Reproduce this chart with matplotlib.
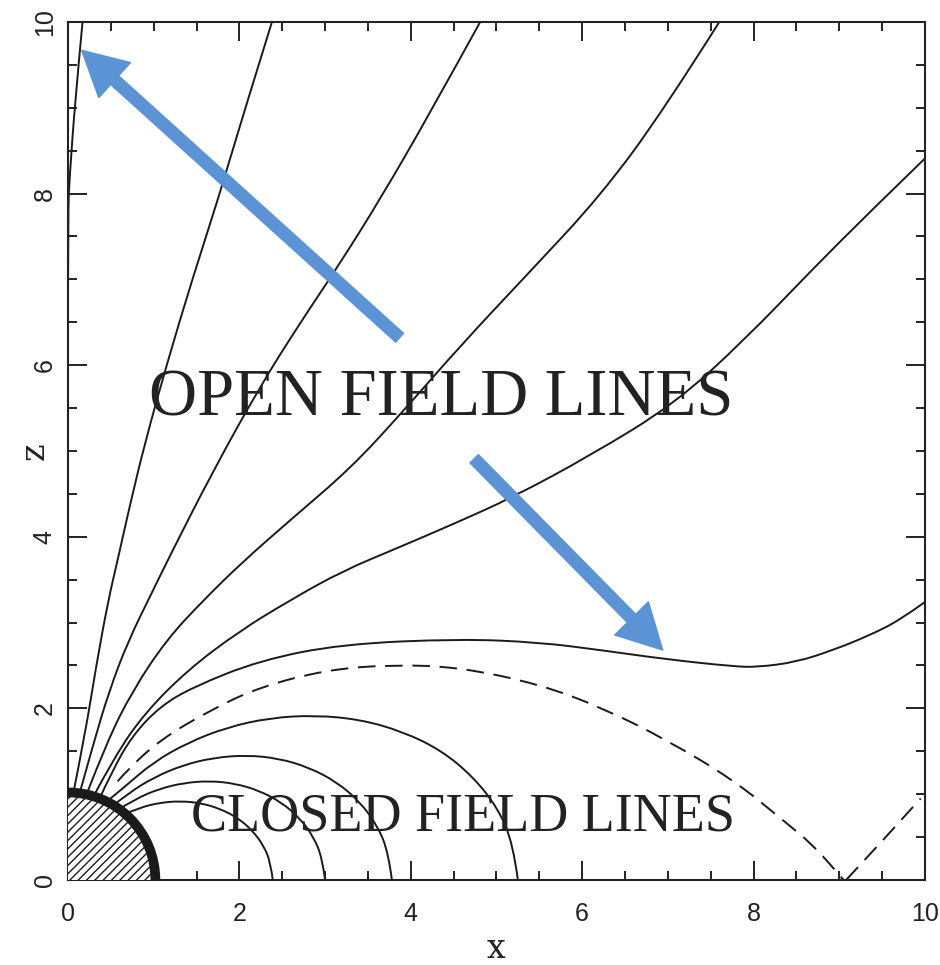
import numpy as np
import matplotlib.pyplot as plt
from matplotlib.patches import Wedge, Arc, PathPatch
from matplotlib.path import Path

# field lines, (x, z) in stellar radii
open_a_x = [0.0, 0.0, 0.0, 0.02, 0.085, 0.17]
open_a_z = [1.0, 4.5, 7.8, 8.2, 9.1, 10.0]

open_b_x = [0.06, 0.2, 0.33, 0.47, 0.58, 0.73, 0.9, 1.15, 1.45, 1.75, 2.06, 2.38]
open_b_z = [1.0, 1.7, 2.5, 3.26, 3.73, 4.4, 5.1, 6.0, 7.0, 7.93, 8.97, 10.0]

open_c_x = [0.13, 0.3, 0.48, 0.7, 0.98, 1.19, 1.7, 2.24, 2.7, 3.15, 3.64, 4.22, 4.81]
open_c_z = [0.99, 1.6, 2.2, 2.78, 3.35, 3.78, 4.78, 5.75, 6.48, 7.15, 7.93, 8.93, 10.0]

open_d_x = [0.21, 0.45, 0.75, 1.15, 1.58, 2.03, 2.6, 3.3, 3.9, 4.6, 5.4, 6.21, 6.95, 7.6]
open_d_z = [0.98, 1.6, 2.2, 2.8, 3.26, 3.7, 4.2, 4.8, 5.45, 6.25, 7.1, 7.97, 8.97, 10.0]

open_e_x = [0.29, 0.55, 0.9, 1.4, 2.0, 2.59, 3.2, 3.87, 4.5, 5.19, 6.1, 7.08, 7.9, 8.68, 9.35, 10.0]
open_e_z = [0.96, 1.45, 1.95, 2.45, 2.9, 3.26, 3.6, 3.88, 4.15, 4.46, 4.95, 5.55, 6.3, 7.11, 7.78, 8.41]

open_f_x = [0.36, 0.52, 0.75, 1.07, 1.46, 2.24, 3.2, 4.57, 5.5, 6.21, 7.0, 7.76, 8.04, 8.5, 8.93, 9.35, 9.71, 10.0]
open_f_z = [0.93, 1.28, 1.68, 2.02, 2.25, 2.56, 2.75, 2.81, 2.77, 2.68, 2.57, 2.49, 2.48, 2.54, 2.68, 2.85, 3.03, 3.24]

sep_x = [0.58, 0.69, 1.07, 1.66, 2.24, 3.02, 3.79, 4.57, 5.51, 6.25, 6.99, 7.76, 8.34, 8.75, 9.05]
sep_z = [1.15, 1.28, 1.63, 1.98, 2.25, 2.45, 2.51, 2.48, 2.28, 2.0, 1.63, 1.17, 0.70, 0.36, 0.0]
sheet_x = [9.08, 9.5, 9.95]
sheet_z = [0.0, 0.45, 0.95]

loop1_x = [0.647, 0.846, 1.073, 1.315, 1.554, 1.778, 1.984, 2.153, 2.282, 2.364, 2.39]
loop1_z = [0.763, 0.846, 0.901, 0.920, 0.896, 0.829, 0.722, 0.576, 0.402, 0.206, 0.0]
loop2_x = [0.577, 0.797, 1.061, 1.347, 1.65, 1.95, 2.232, 2.49, 2.703, 2.865, 2.967, 3.0]
loop2_z = [0.816, 0.949, 1.061, 1.131, 1.155, 1.125, 1.041, 0.906, 0.723, 0.504, 0.258, 0.0]
loop3_x = [0.514, 0.714, 1.005, 1.338, 1.697, 2.079, 2.457, 2.812, 3.137, 3.406, 3.61, 3.738, 3.78]
loop3_z = [0.857, 1.019, 1.196, 1.338, 1.425, 1.455, 1.418, 1.312, 1.142, 0.911, 0.635, 0.325, 0.0]
loop4_x = [0.436, 0.656, 0.992, 1.396, 1.858, 2.357, 2.888, 3.413, 3.906, 4.358, 4.73, 5.014, 5.193, 5.25]
loop4_z = [0.9, 1.08, 1.37, 1.6, 1.78, 1.89, 1.92, 1.87, 1.73, 1.51, 1.2, 0.84, 0.43, 0.0]

star_radius = 1.0

# arrows: (tail, tip)
arrow_up = ((3.87, 6.32), (0.16, 9.67))
arrow_down = ((4.74, 4.91), (6.94, 2.68))

ink = '#1a1a1a'


def smooth_line(ax, xs, zs, **kw):
    # quadratic bezier through the midpoints of the read points
    pts = np.column_stack([xs, zs])
    verts = [pts[0]]
    codes = [Path.MOVETO]
    for i in range(1, len(pts) - 1):
        end = pts[i + 1] if i == len(pts) - 2 else (pts[i] + pts[i + 1]) / 2
        verts += [pts[i], end]
        codes += [Path.CURVE3, Path.CURVE3]
    if len(pts) == 2:
        verts.append(pts[1])
        codes.append(Path.LINETO)
    ax.add_patch(PathPatch(Path(verts, codes), fill=False, **kw))


fig = plt.figure(figsize=(9.4, 9.65), dpi=100)
ax = fig.add_axes([0.0723, 0.0881, 0.9117, 0.8891])

lw = 1.4
for xs, zs in [(open_a_x, open_a_z), (open_b_x, open_b_z), (open_c_x, open_c_z),
               (open_d_x, open_d_z), (open_e_x, open_e_z), (open_f_x, open_f_z),
               (loop1_x, loop1_z), (loop2_x, loop2_z), (loop3_x, loop3_z), (loop4_x, loop4_z)]:
    smooth_line(ax, xs, zs, edgecolor=ink, lw=lw)

smooth_line(ax, sep_x, sep_z, edgecolor=ink, lw=lw, linestyle=(0, (9, 5)))
smooth_line(ax, sheet_x, sheet_z, edgecolor=ink, lw=lw, linestyle=(0, (9, 5)))

# the star
ax.add_patch(Wedge((0, 0), star_radius, 0, 90, facecolor='white', edgecolor=ink,
                   hatch='////', lw=0, zorder=3))
ax.add_patch(Arc((0, 0), 2.04 * star_radius, 2.04 * star_radius, theta1=0, theta2=90,
                 color=ink, lw=7, zorder=4))

for tail, tip in [arrow_up, arrow_down]:
    ax.annotate('', xy=tip, xytext=tail,
                arrowprops=dict(arrowstyle='simple,head_length=3.2,head_width=3.4,tail_width=0.85',
                                color='#5b93d5', mutation_scale=10, shrinkA=0, shrinkB=0),
                zorder=5)

ax.text(4.35, 5.41, 'OPEN FIELD LINES', family='Liberation Serif', fontsize=48,
        color='#222222', ha='center', va='baseline')
ax.text(4.61, 0.58, 'CLOSED FIELD LINES', family='Liberation Serif', fontsize=39,
        color='#222222', ha='center', va='baseline', zorder=6)

ax.set_xlim(0, 10)
ax.set_ylim(0, 10)
ax.set_xticks([0, 2, 4, 6, 8, 10])
ax.set_yticks([0, 2, 4, 6, 8, 10])
ax.set_xticks(np.arange(0, 10.01, 0.5), minor=True)
ax.set_yticks(np.arange(0, 10.01, 0.5), minor=True)
ax.tick_params(which='both', direction='in', top=True, right=True, width=1.4, color='#222222')
ax.tick_params(which='major', length=13.5)
ax.tick_params(which='minor', length=6.5)
ax.tick_params(axis='x', labelsize=18, pad=16, labelcolor='#222222')
ax.tick_params(axis='y', labelsize=18, pad=8, labelrotation=90, labelcolor='#222222')
for lab in ax.get_xticklabels() + ax.get_yticklabels():
    lab.set_family('Liberation Sans')
for lab in ax.get_yticklabels():
    lab.set_va('center')
for s in ax.spines.values():
    s.set_linewidth(1.5)
    s.set_color('#222222')

ax.set_xlabel('x', family='DejaVu Serif', fontsize=24, color='#222222', labelpad=5)
ax.set_ylabel('z', family='DejaVu Serif', fontsize=24, color='#222222', labelpad=-13)

fig.savefig('out.png', dpi=100)
